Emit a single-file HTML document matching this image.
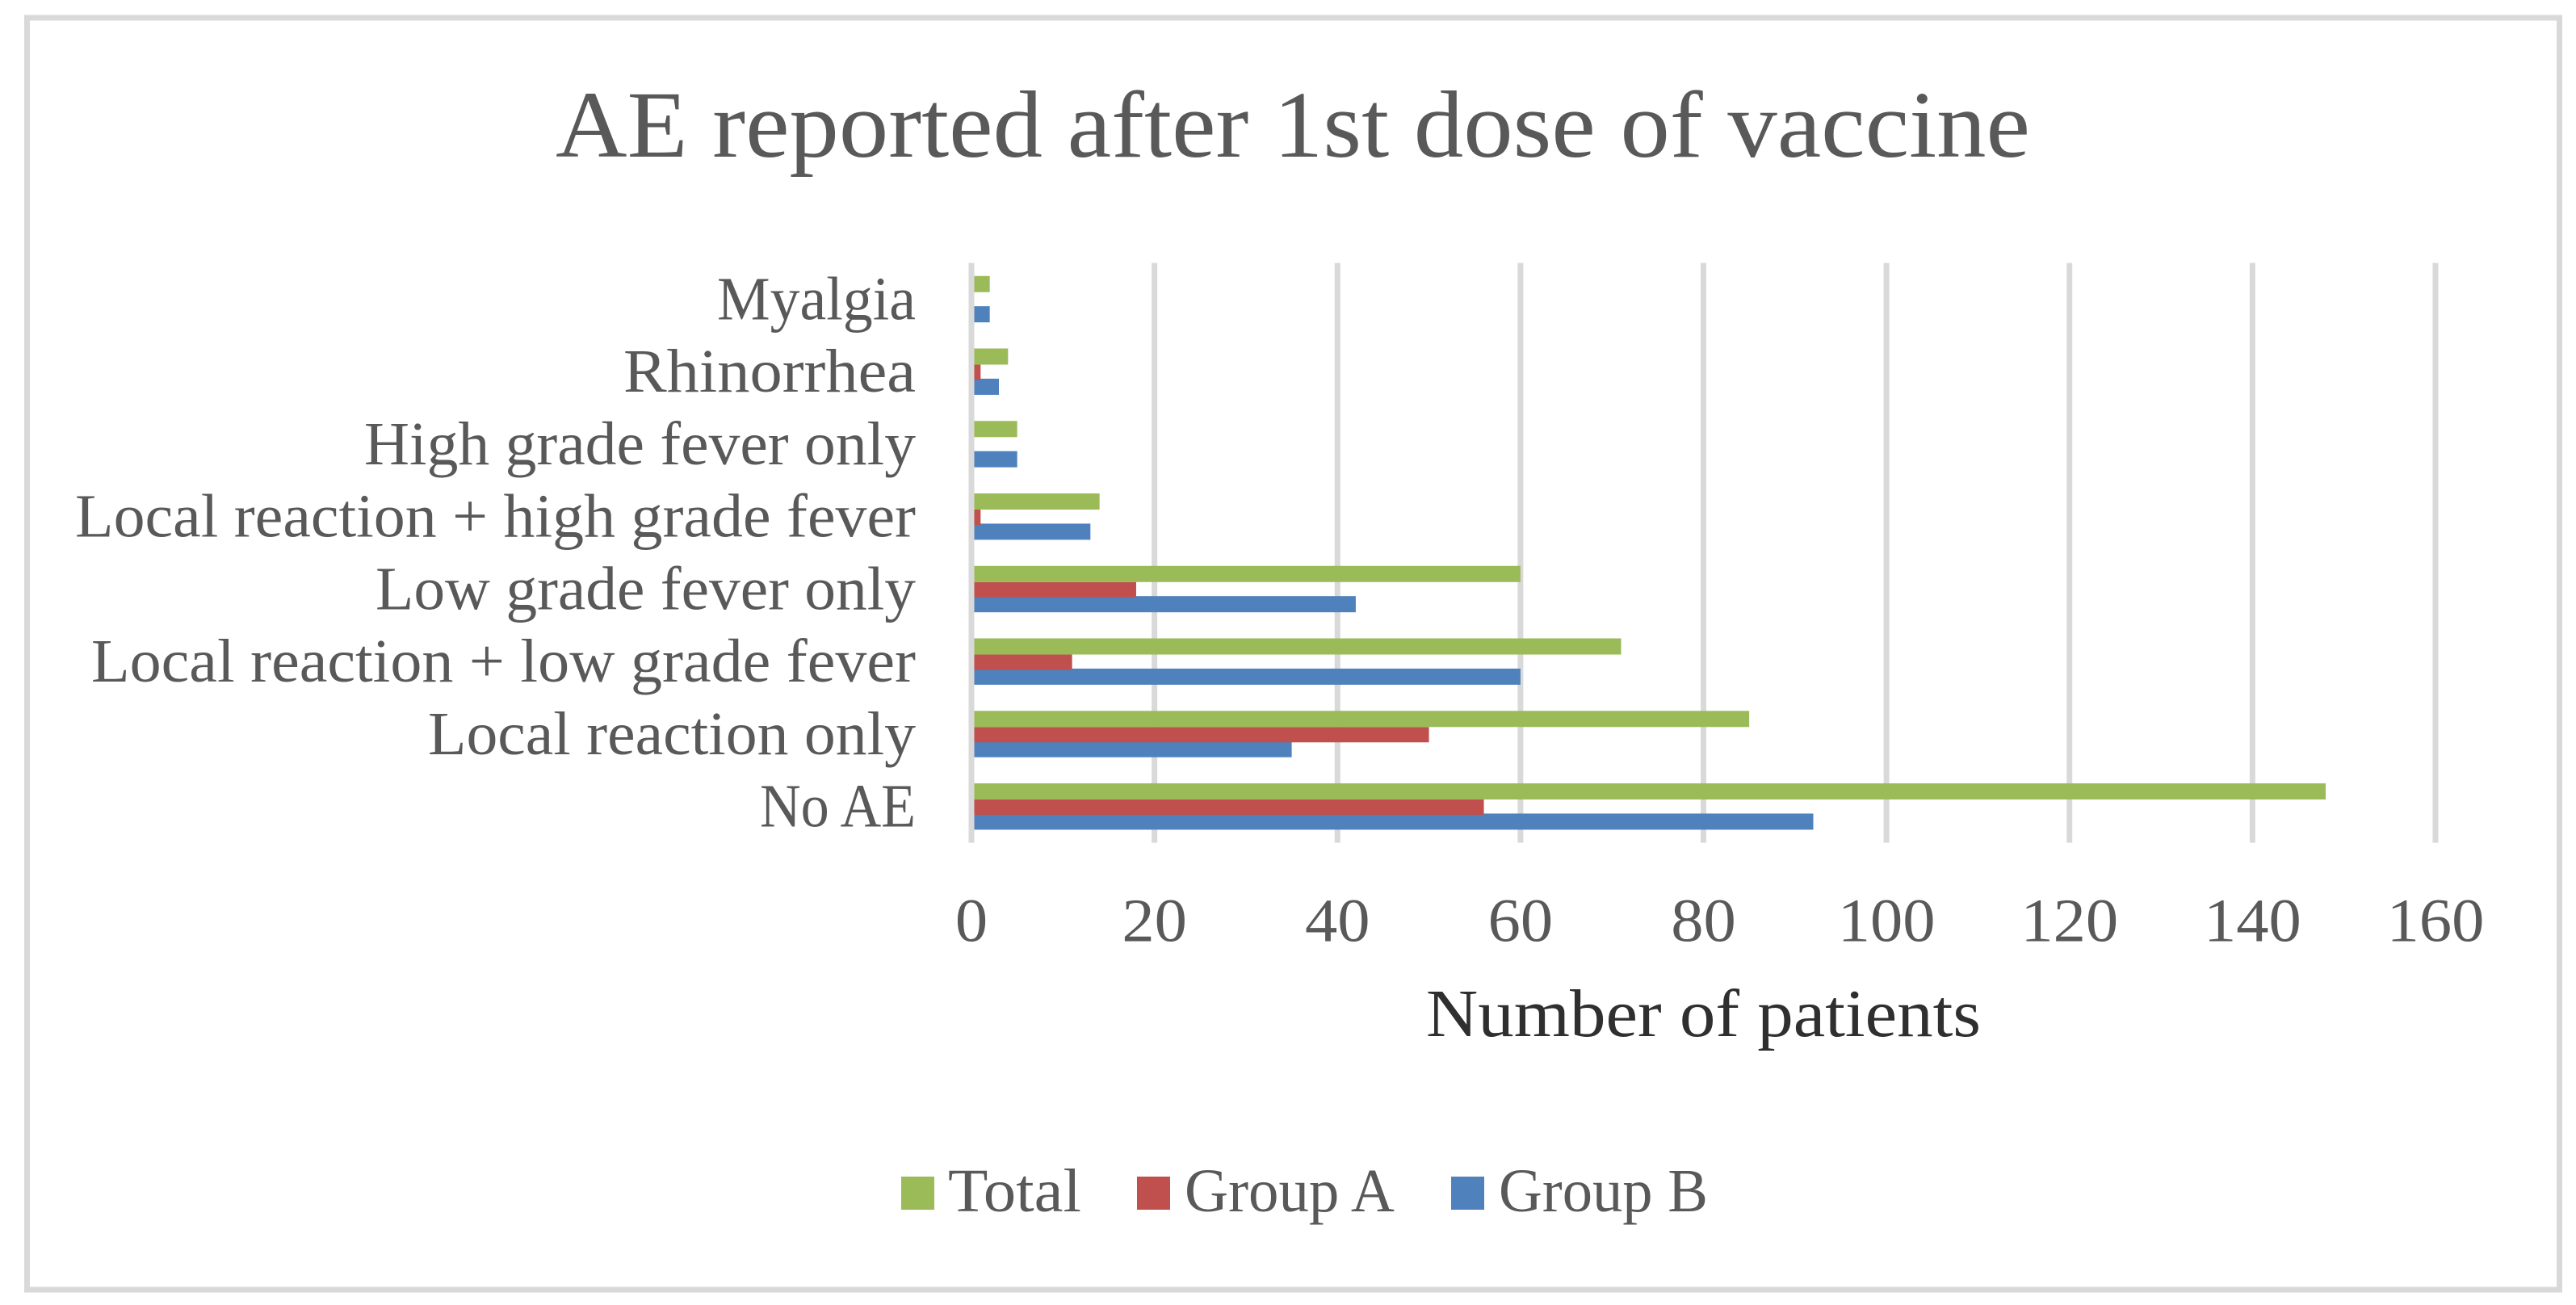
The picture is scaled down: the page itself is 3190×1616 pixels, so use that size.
<!DOCTYPE html>
<html lang="en">
<head>
<meta charset="utf-8">
<title>AE reported after 1st dose of vaccine</title>
<style>
html,body{margin:0;padding:0;background:#fff;width:3190px;height:1616px;overflow:hidden}
svg{display:block}
text{font-family:"Liberation Serif",serif;fill:#595959}
</style>
</head>
<body>
<svg id="chart" xmlns="http://www.w3.org/2000/svg" width="3190" height="1616" viewBox="0 0 3190 1616">
  <rect x="0" y="0" width="3190" height="1616" fill="#ffffff"/>
  <rect x="33.5" y="22" width="3136" height="1575" fill="none" stroke="#d9d9d9" stroke-width="7"/>
  <text x="688" y="194" font-size="118" textLength="1826" lengthAdjust="spacingAndGlyphs">AE reported after 1st dose of vaccine</text>
  <g id="grid"></g>
  <g id="bars"></g>
  <g id="cats"></g>
  <g id="ticks"></g>
  <text x="1766" y="1283" font-size="84" textLength="687" lengthAdjust="spacingAndGlyphs" style="fill:#2f2f2f">Number of patients</text>
  <g>
    <g>
      <rect x="1116" y="1457" width="41" height="41" fill="#9bbb59"/>
      <text x="1174" y="1500" font-size="76" textLength="165" lengthAdjust="spacingAndGlyphs">Total</text>
    </g>
    <g>
      <rect x="1408" y="1457" width="41" height="41" fill="#c0504d"/>
      <text x="1467" y="1500" font-size="76" textLength="260" lengthAdjust="spacingAndGlyphs">Group A</text>
    </g>
    <g>
      <rect x="1797" y="1457" width="41" height="41" fill="#4f81bd"/>
      <text x="1856" y="1500" font-size="76" textLength="259" lengthAdjust="spacingAndGlyphs">Group B</text>
    </g>
  </g>
</svg>
<script>
const categories = ["Myalgia","Rhinorrhea","High grade fever only","Local reaction + high grade fever","Low grade fever only","Local reaction + low grade fever","Local reaction only","No AE"];
const totalValues = [2,4,5,14,60,71,85,148];
const groupAValues = [0,1,0,1,18,11,50,56];
const groupBValues = [2,3,5,13,42,60,35,92];
const xTickLabels = [0,20,40,60,80,100,120,140,160];

const NS = "http://www.w3.org/2000/svg";
const plotTop = 325.6, plotBottom = 1043.6, xZero = 1203, xMax = 3016, xDomainMax = 160;
const gridWidth = 7;
const TICK_SCALE = 1.06;
const labelFit = {
  "Myalgia": 246,
  "Rhinorrhea": 362,
  "High grade fever only": 683,
  "Local reaction + high grade fever": 1041,
  "Low grade fever only": 669,
  "Local reaction + low grade fever": 1021,
  "Local reaction only": 604,
  "No AE": 193
};
function x(v){ return xZero + (xMax - xZero) * v / xDomainMax; }
function bandCenter(i){ return plotTop + (plotBottom - plotTop) * (i + 0.5) / categories.length; }
function make(tag, attrs, parent){
  const el = document.createElementNS(NS, tag);
  for (const k in attrs) el.setAttribute(k, attrs[k]);
  parent.appendChild(el);
  return el;
}
const gridG = document.getElementById("grid");
const barsG = document.getElementById("bars");
const catsG = document.getElementById("cats");
const ticksG = document.getElementById("ticks");

xTickLabels.forEach(function(t){
  const line = make("rect", {x: x(t) - gridWidth / 2, y: plotTop, width: gridWidth, height: plotBottom - plotTop, fill: "#d9d9d9"}, gridG);
  
  
  const label = make("text", {transform: "translate(" + x(t) + ",1165.5) scale(" + TICK_SCALE + ",1)", "font-size": 76, "text-anchor": "middle"}, ticksG);
  label.textContent = String(t);
  
  
});

function drawSeries(values, offset, height, color, name){
  values.forEach(function(v, i){
    if (v <= 0) return;
    const left = x(0) + gridWidth / 2;
    const bar = make("rect", {x: left, y: bandCenter(i) + offset, width: Math.max(0, x(v) - left), height: height, fill: color}, barsG);
    
    
  });
}
drawSeries(groupBValues, 8.7, 20, "#4f81bd", "bar-group-b");
drawSeries(groupAValues, -8.7, 19, "#c0504d", "bar-group-a");
drawSeries(totalValues, -28.7, 20, "#9bbb59", "bar-total");

categories.forEach(function(c, i){
  const label = make("text", {x: 1134, y: bandCenter(i) + 25, "font-size": 76, "text-anchor": "end", textLength: labelFit[c], lengthAdjust: "spacingAndGlyphs"}, catsG);
  label.textContent = c;
  
  
});
</script>
</body>
</html>
